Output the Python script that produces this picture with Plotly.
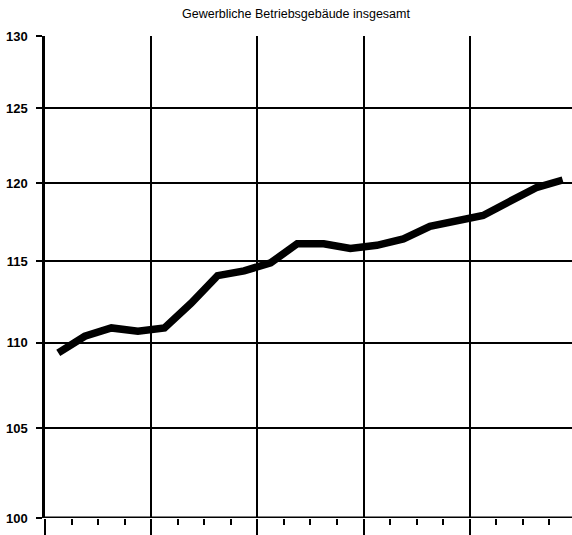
import plotly.graph_objects as go
import numpy as np

# quarterly index values (5 years x 4 quarters)
quarters = list(range(20))
values = [109.4, 110.4, 110.9, 110.7, 110.9, 112.4, 114.1, 114.4, 114.9, 116.1,
          116.1, 115.8, 116.0, 116.4, 117.2, 117.6, 117.9, 118.8, 119.7, 120.2]
y_ticks = [100, 105, 110, 115, 120, 125, 130]
title = "Gewerbliche Betriebsgebäude insgesamt"

x_pos = [q + 0.5 for q in quarters]

fig = go.Figure()
fig.add_trace(go.Scatter(x=x_pos, y=values, mode="lines",
                         line=dict(color="black", width=7.5), hoverinfo="skip"))

font_main = "Liberation Sans, Arial, sans-serif"

fig.update_layout(
    width=572, height=535,
    margin=dict(l=45, r=0, t=36, b=17, autoexpand=False),
    paper_bgcolor="white", plot_bgcolor="white",
    showlegend=False,
    title=dict(text=title, x=296 / 572, xanchor="center", y=1 - 14 / 535, yanchor="middle",
               font=dict(family=font_main, size=12.5, color="black")),
    xaxis=dict(range=[0, 19.85], tickvals=[0, 4, 8, 12, 16], showticklabels=False,
               ticks="outside", ticklen=17, tickwidth=1.5, tickcolor="black",
               showgrid=True, gridcolor="black", gridwidth=1.5, zeroline=False,
               showline=False, automargin=False,
               minor=dict(tickvals=[q for q in quarters if q % 4 != 0], ticks="outside",
                          ticklen=6, tickwidth=1.5, tickcolor="black", showgrid=False)),
    yaxis=dict(type="log", range=[np.log10(100), np.log10(130)], tickvals=y_ticks,
               ticktext=[str(v) for v in y_ticks], ticks="outside", ticklen=6,
               tickwidth=1.5, tickcolor="black", automargin=False,
               tickfont=dict(family=font_main, size=13, color="black", weight="bold"),
               showgrid=True, gridcolor="black", gridwidth=1.5,
               showline=True, linecolor="black", linewidth=2.5, zeroline=False,
               ticklabelstandoff=6),
)
# thick baseline at 100
fig.add_shape(type="line", xref="x", yref="y", x0=0, x1=19.85, y0=100, y1=100,
              line=dict(color="black", width=3), layer="above")

fig.write_html("out.html", config={"displayModeBar": False},
               post_script="document.body.style.margin='0';document.body.style.padding='0';")
